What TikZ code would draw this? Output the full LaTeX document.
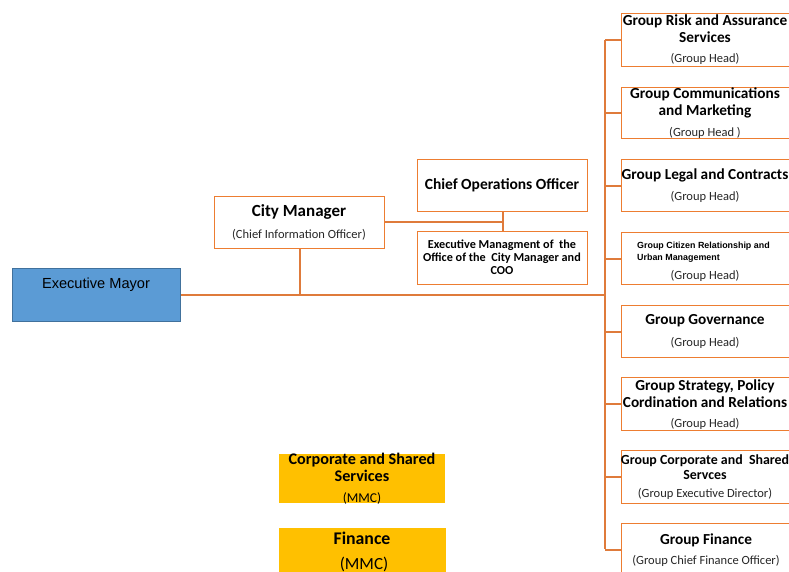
\documentclass[tikz,border=0pt]{standalone}
\usepackage{fontspec}
\setmainfont{Carlito}
\newfontfamily\arialf{Liberation Sans}
\definecolor{boxor}{HTML}{ED7D31}
\definecolor{lineor}{HTML}{DF7B3B}
\definecolor{mayorblue}{HTML}{5B9BD5}
\definecolor{mayoredge}{HTML}{41719C}
\definecolor{mmcyellow}{HTML}{FFC000}
\tikzset{
  obox/.style={draw=boxor, line width=1.4pt, fill=white, inner sep=0pt, anchor=north west},
  ybox/.style={fill=mmcyellow, inner sep=0pt, anchor=north west},
  conn/.style={draw=lineor, line width=1.8pt},
  ttl/.style={font=\fontsize{15.3}{17}\selectfont\bfseries, inner sep=0pt, align=center, text=black},
  sub/.style={font=\fontsize{12.5}{14}\selectfont, inner sep=0pt, text=black!85},
}
\begin{document}
\begin{tikzpicture}[x=1pt,y=-1pt]
\useasboundingbox (0,0) rectangle (789,571);
\clip (0,0) rectangle (789,571);
% Executive Mayor
\node[draw=mayoredge, fill=mayorblue, line width=1.4pt, minimum width=168pt, minimum height=53pt, inner sep=0pt, anchor=north west] (em) at (12,268) {};
\node[font=\arialf\fontsize{14.6}{17}\selectfont, inner sep=0pt] (emt) at (96,285) {Executive Mayor};
% City Manager
\node[obox, minimum width=170pt, minimum height=52pt] (cm) at (214,196) {};
\node[font=\fontsize{17}{20}\selectfont\bfseries, inner sep=0pt] (cmt) at (299,212) {City Manager};
\node[font=\fontsize{12.5}{14}\selectfont, inner sep=0pt, text=black!85] (cms) at (299,235) {(Chief Information Officer)};
% COO
\node[obox, minimum width=170pt, minimum height=52pt] (coo) at (417,159) {};
\node[font=\fontsize{15.5}{18}\selectfont\bfseries, inner sep=0pt] (coot) at (502,185) {Chief Operations Officer};
% Exec management office
\node[obox, minimum width=170pt, minimum height=53pt] (emo) at (417,231) {};
\node[font=\fontsize{12.2}{13}\selectfont\bfseries, inner sep=0pt, align=center] (emot) at (502,257) {Executive Managment of\ \ the\\Office of the\ \ City Manager and\\COO};
% Group boxes
\node[obox, minimum width=170pt, minimum height=53pt] (g1) at (621,13) {};
\node[ttl] (g1t) at (705,28.5) {Group Risk and Assurance\\Services};
\node[sub] (g1s) at (705,59) {(Group Head)};
\node[obox, minimum width=170pt, minimum height=51pt] (g2) at (621,87) {};
\node[ttl] (g2t) at (705,102.5) {Group Communications\\and Marketing};
\node[sub] (g2s) at (705,133) {(Group Head )};
\node[obox, minimum width=170pt, minimum height=52pt] (g3) at (621,159) {};
\node[ttl] (g3t) at (705,175) {Group\ Legal and Contracts};
\node[sub] (g3s) at (705,197) {(Group Head)};
\node[obox, minimum width=170pt, minimum height=52pt] (g4) at (621,232) {};
\node[sub] (g4s) at (705,276) {(Group Head)};
\node[font=\arialf\fontsize{8.9}{12}\selectfont\bfseries, inner sep=0pt, align=left, anchor=west] (g4t) at (637,252) {Group Citizen Relationship and\\Urban Management};
\node[obox, minimum width=170pt, minimum height=52pt] (g5) at (621,305) {};
\node[ttl] (g5t) at (705,321) {Group Governance};
\node[sub] (g5s) at (705,343) {(Group Head)};
\node[obox, minimum width=170pt, minimum height=53pt] (g6) at (621,377) {};
\node[ttl] (g6t) at (705,393.5) {Group Strategy, Policy\\Cordination and Relations};
\node[sub] (g6s) at (705,424) {(Group Head)};
\node[obox, minimum width=170pt, minimum height=53pt] (g7) at (621,450) {};
\node[font=\fontsize{13.9}{15}\selectfont\bfseries, inner sep=0pt, align=center] (g7t) at (705,467.5) {Group Corporate and\ \ Shared\\Servces};
\node[sub] (g7s) at (705,494) {(Group Executive Director)};
\node[obox, minimum width=170pt, minimum height=52pt] (g8) at (621,523) {};
\node[ttl] (g8t) at (706,540) {Group\ Finance};
\node[sub] (g8s) at (706,561) {(Group Chief Finance Officer)};
% MMC boxes
\node[ybox, minimum width=166pt, minimum height=49pt] (y1) at (279,454) {};
\node[font=\fontsize{16.2}{17}\selectfont\bfseries, inner sep=0pt, align=center] (y1t) at (362,467.5) {Corporate and Shared\\Services};
\node[font=\fontsize{13.5}{15}\selectfont, inner sep=0pt] (y1s) at (362,498) {(MMC)};
\node[ybox, minimum width=167pt, minimum height=48pt] (y2) at (279,528) {};
\node[font=\fontsize{17.8}{20}\selectfont\bfseries, inner sep=0pt] (y2t) at (362,538) {Finance};
\node[font=\fontsize{17}{20}\selectfont, inner sep=0pt] (y2s) at (364,564) {(MMC)};
% connectors
\coordinate (sptop) at (605,40);
\coordinate (spbot) at (605,549);
\draw[conn] (em.east) -- (em.east -| sptop);
\draw[conn] (cm.south) -- (cm.south |- em.east);
\draw[conn] (cm.east |- 0,222) -- (coo.south |- 0,222);
\draw[conn] (coo.south) -- (emo.north);
\draw[conn] (sptop) -- (spbot);
\foreach \g in {g1,g2,g3,g4,g5,g6,g7,g8}{
  \draw[conn] (\g.west -| sptop) -- (\g.west);
}
\end{tikzpicture}
\end{document}
